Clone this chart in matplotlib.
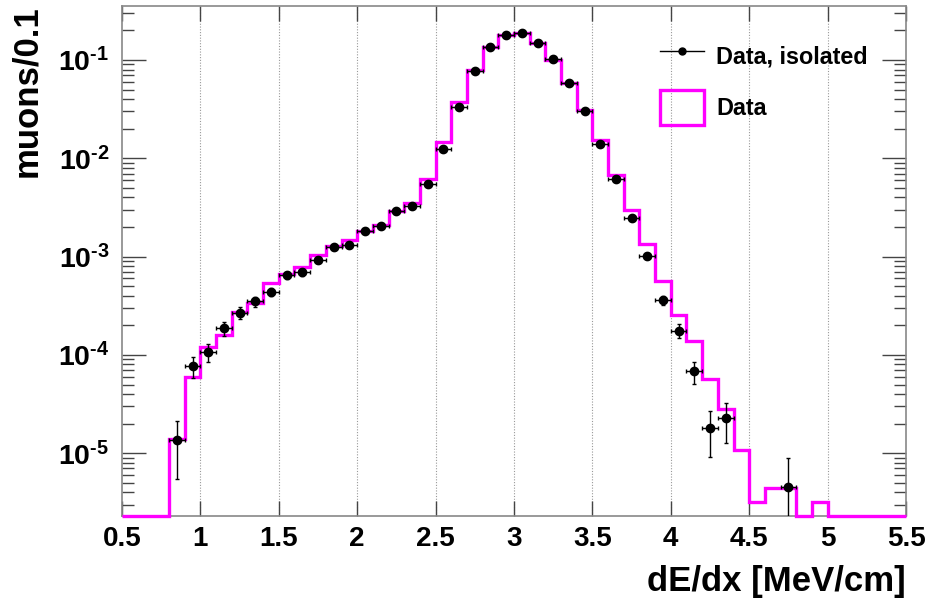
import numpy as np
import matplotlib
matplotlib.use('Agg')
import matplotlib.pyplot as plt
from matplotlib.lines import Line2D
from matplotlib.patches import Patch
from matplotlib.ticker import FixedLocator, LogLocator, FuncFormatter, NullLocator

plt.rcParams.update({
    "font.family": "Liberation Sans", "font.weight": "bold",
    "mathtext.fontset": "custom",
    "mathtext.rm": "Liberation Sans:bold", "mathtext.bf": "Liberation Sans:bold",
    "mathtext.it": "Liberation Sans:bold",
})

# binning: 50 bins of 0.1 between 0.5 and 5.5
x_min, x_max, n_bins = 0.5, 5.5, 50
y_min, y_max = 2.3e-6, 0.354

# "Data" histogram (magenta), content per bin, 0 = empty bin
data_hist = [
    0, 0, 0, 1.4e-5, 6.0e-5, 1.21e-4, 1.6e-4, 2.75e-4, 3.34e-4, 5.35e-4,
    6.6e-4, 7.8e-4, 1.05e-3, 1.27e-3, 1.48e-3, 1.84e-3, 2.10e-3, 2.88e-3, 3.47e-3, 6.1e-3,
    0.0145, 0.037, 0.079, 0.137, 0.180, 0.187, 0.150, 0.100, 0.0578, 0.0309,
    0.0153, 6.7e-3, 2.99e-3, 1.35e-3, 5.6e-4, 2.54e-4, 1.37e-4, 5.65e-5, 2.79e-5, 1.09e-5,
    3.2e-6, 4.4e-6, 4.4e-6, 0, 3.2e-6, 0, 0, 0, 0, 0,
]

# "Data, isolated" points (bin centres, value, symmetric error)
iso_x = [0.85, 0.95, 1.05, 1.15, 1.25, 1.35, 1.45, 1.55, 1.65, 1.75,
         1.85, 1.95, 2.05, 2.15, 2.25, 2.35, 2.45, 2.55, 2.65, 2.75,
         2.85, 2.95, 3.05, 3.15, 3.25, 3.35, 3.45, 3.55, 3.65, 3.75,
         3.85, 3.95, 4.05, 4.15, 4.25, 4.35, 4.75]
iso_y = [1.35e-5, 7.7e-5, 1.06e-4, 1.86e-4, 2.69e-4, 3.5e-4, 4.4e-4, 6.46e-4, 6.98e-4, 9.25e-4,
         1.24e-3, 1.31e-3, 1.84e-3, 2.04e-3, 2.92e-3, 3.29e-3, 5.52e-3, 0.01245, 0.0334, 0.0766,
         0.135, 0.179, 0.187, 0.150, 0.102, 0.059, 0.0304, 0.0141, 6.2e-3, 2.46e-3,
         1.02e-3, 3.61e-4, 1.76e-4, 6.82e-5, 1.81e-5, 2.26e-5, 4.5e-6]
iso_err = [8.0e-6, 1.9e-5, 2.2e-5, 2.9e-5, 3.5e-5, 4.0e-5, 4.5e-5, 5.4e-5, 5.6e-5, 6.5e-5,
           7.5e-5, 7.7e-5, 9.1e-5, 9.6e-5, 1.15e-4, 1.2e-4, 1.6e-4, 2.4e-4, 3.9e-4, 5.9e-4,
           7.8e-4, 9.0e-4, 9.2e-4, 8.2e-4, 6.8e-4, 5.2e-4, 3.7e-4, 2.5e-4, 1.7e-4, 1.05e-4,
           6.8e-5, 4.0e-5, 2.8e-5, 1.75e-5, 9.0e-6, 1.0e-5, 4.5e-6]

MAGENTA = "#ff00ff"

fig = plt.figure(figsize=(9.31, 6.01), dpi=100)
ax = fig.add_axes([122 / 931, 1 - 516 / 601, 784 / 931, 510 / 601])

edges = np.linspace(x_min, x_max, n_bins + 1)
h = np.clip(np.asarray(data_hist, float), y_min, None)  # empty bins sit on the floor (ROOT style)
ax.stairs(h, edges, color=MAGENTA, lw=2.4, baseline=None, clip_on=False, zorder=3)

bin_w = (x_max - x_min) / n_bins
iso_x = np.asarray(iso_x)
iso_y = np.asarray(iso_y)
iso_err = np.asarray(iso_err)
ax.errorbar(iso_x, iso_y, yerr=iso_err, xerr=bin_w / 2, fmt="o", color="black",
            ms=6, elinewidth=1.0, capsize=1.5, capthick=1.0, zorder=4)

ax.set_yscale("log")
ax.set_xlim(x_min, x_max)
ax.set_ylim(y_min, y_max)


def pow10(v, pos):
    # ROOT-like 10^-n with a short hyphen in the exponent
    return r"$\mathbf{10^{\text{-%d}}}$" % abs(round(np.log10(v)))


# axes / ticks
ax.xaxis.set_major_locator(FixedLocator(np.arange(0.5, 5.51, 0.5)))
ax.xaxis.set_minor_locator(NullLocator())
ax.xaxis.set_major_formatter(FuncFormatter(lambda v, p: f"{v:g}"))
ax.yaxis.set_major_locator(LogLocator(base=10, numticks=20))
ax.yaxis.set_minor_locator(LogLocator(base=10, subs=np.arange(2, 10), numticks=20))
ax.yaxis.set_major_formatter(FuncFormatter(pow10))
ax.tick_params(axis="x", which="major", direction="in", length=11, width=1.0, top=True,
               labelsize=20, pad=7, color="#444444")
ax.tick_params(axis="y", which="major", direction="in", length=17, width=1.0, right=True,
               labelsize=20.5, pad=9, color="#444444")
ax.tick_params(axis="y", which="minor", direction="in", length=8.5, width=1.0, right=True,
               color="#444444")
for s in ax.spines.values():
    s.set_color("#888888")
    s.set_linewidth(1.2)

# vertical dotted grid
for gx in np.arange(1.0, 5.01, 0.5):
    ax.axvline(gx, color="#999999", lw=0.8, ls=(0, (1, 1.5)), zorder=1)

ax.set_xlabel("dE/dx [MeV/cm]", fontsize=25, fontweight="bold")
ax.xaxis.set_label_coords(1.0, (516 - 582) / 510)
ax.xaxis.label.set_ha("right")
ax.xaxis.label.set_va("center")
ax.set_ylabel("muons/0.1", fontsize=25, fontweight="bold")
ax.yaxis.set_label_coords((27 - 122) / 784, 1.0 + 1 / 510)
ax.yaxis.label.set_ha("right")
ax.yaxis.label.set_va("center")

handles = [
    Line2D([], [], color="black", lw=1.0, marker="o", ms=5),
    Patch(facecolor="none", edgecolor=MAGENTA, lw=2.4),
]
leg = ax.legend(handles, ["Data, isolated", "Data"], loc="upper left",
                bbox_to_anchor=(660 / 931, 1 - 38 / 601), bbox_transform=fig.transFigure,
                frameon=False, fontsize=16.8, handlelength=1.9, handleheight=1.95,
                handletextpad=0.5, labelspacing=0.7, borderpad=0, borderaxespad=0)

fig.savefig("out.png", dpi=100)
